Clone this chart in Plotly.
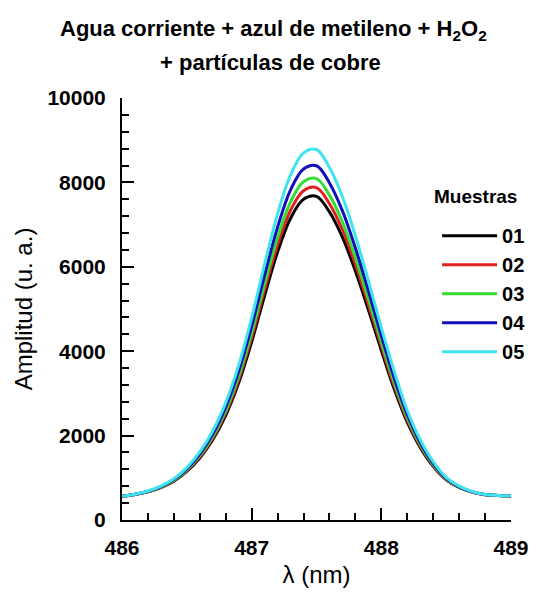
import plotly.graph_objects as go

wavelength = [486.0, 486.1, 486.2, 486.3, 486.4, 486.5, 486.6, 486.7, 486.8, 486.9,
              487.0, 487.1, 487.2, 487.3, 487.4, 487.5, 487.6, 487.7, 487.8, 487.9,
              488.0, 488.1, 488.2, 488.3, 488.4, 488.5, 488.6, 488.7, 488.8, 488.9, 489.0]

m01 = [560, 605, 670, 770, 920, 1150, 1470, 1900, 2480, 3250, 4220, 5320, 6350, 7150, 7600, 7670,
       7300, 6700, 5900, 4980, 4020, 3100, 2320, 1720, 1270, 950, 770, 660, 600, 580, 570]
m02 = [560, 606, 673, 776, 930, 1167, 1496, 1939, 2536, 3328, 4326, 5458, 6518, 7341, 7804, 7876,
       7495, 6878, 6055, 5108, 4120, 3174, 2371, 1754, 1291, 961, 776, 663, 601, 581, 570]
m03 = [560, 608, 676, 782, 941, 1185, 1524, 1979, 2593, 3409, 4436, 5601, 6692, 7539, 8015, 8089,
       7698, 7062, 6215, 5241, 4224, 3250, 2424, 1788, 1312, 973, 782, 666, 602, 581, 571]
m04 = [560, 610, 681, 791, 957, 1210, 1563, 2037, 2676, 3524, 4593, 5806, 6941, 7822, 8318, 8395,
       7987, 7326, 6445, 5431, 4373, 3359, 2500, 1838, 1342, 990, 791, 670, 604, 582, 571]
m05 = [560, 612, 687, 803, 976, 1242, 1612, 2109, 2780, 3670, 4791, 6063, 7253, 8178, 8698, 8779,
       8351, 7658, 6733, 5670, 4560, 3516, 2595, 1901, 1381, 1011, 803, 676, 606, 583, 572]

series_names = ["01", "02", "03", "04", "05"]
series_values = [m01, m02, m03, m04, m05]
series_colors = ["#000000", "#e02020", "#33dd33", "#1010b8", "#40e4ee"]

x_ticks = [486, 487, 488, 489]
y_ticks = [0, 2000, 4000, 6000, 8000, 10000]

FONT = "Arial, 'Liberation Sans', sans-serif"

fig = go.Figure()
for name, vals, col in zip(series_names, series_values, series_colors):
    fig.add_trace(go.Scatter(x=wavelength, y=vals, mode="lines", name=name,
                             line=dict(color=col, width=3, shape="spline", smoothing=1.0)))

fig.update_layout(
    width=543, height=596,
    margin=dict(l=122, r=20, t=98, b=74),
    paper_bgcolor="white", plot_bgcolor="white",
    font=dict(family=FONT, color="black"),
    showlegend=True,
    legend=dict(
        x=0.81, y=0.72, xanchor="left", yanchor="top",
        font=dict(size=20, family=FONT, weight="bold"),
        bgcolor="rgba(0,0,0,0)", itemwidth=55, tracegroupgap=0,
    ),
    annotations=[
        dict(text="<b>Agua corriente + azul de metileno + H<sub>2</sub>O<sub>2</sub></b>",
             xref="paper", yref="paper", x=0.39, y=1.160, xanchor="center", yanchor="middle",
             showarrow=False, font=dict(size=22, family=FONT)),
        dict(text="<b>+ partículas de cobre</b>",
             xref="paper", yref="paper", x=0.382, y=1.085, xanchor="center", yanchor="middle",
             showarrow=False, font=dict(size=22, family=FONT)),
        dict(text="<b>Muestras</b>",
             xref="paper", yref="paper", x=0.908, y=0.7665, xanchor="center", yanchor="middle",
             showarrow=False, font=dict(size=19, family=FONT)),
    ],
)

fig.update_xaxes(
    range=[486, 489], tickvals=x_ticks, ticktext=[str(v) for v in x_ticks],
    ticks="inside", ticklen=12, tickwidth=2, tickcolor="black",
    minor=dict(dtick=0.2, ticks="inside", ticklen=7, tickwidth=2, tickcolor="black"),
    showline=True, linecolor="black", linewidth=2, mirror=False,
    showgrid=False, zeroline=False,
    tickfont=dict(size=21, family=FONT, weight="bold"),
    ticklabelstandoff=8,
    title=dict(text="λ (nm)", font=dict(size=24, family=FONT), standoff=8),
)
fig.update_yaxes(
    range=[0, 10000], tickvals=y_ticks, ticktext=[str(v) for v in y_ticks],
    ticks="inside", ticklen=12, tickwidth=2, tickcolor="black",
    minor=dict(dtick=400, ticks="inside", ticklen=7, tickwidth=2, tickcolor="black"),
    showline=True, linecolor="black", linewidth=2, mirror=False,
    showgrid=False, zeroline=False,
    tickfont=dict(size=21, family=FONT, weight="bold"),
    ticklabelstandoff=10,
    title=dict(text="Amplitud (u. a.)", font=dict(size=24, family=FONT), standoff=8),
)

fig.write_html("out.html")
